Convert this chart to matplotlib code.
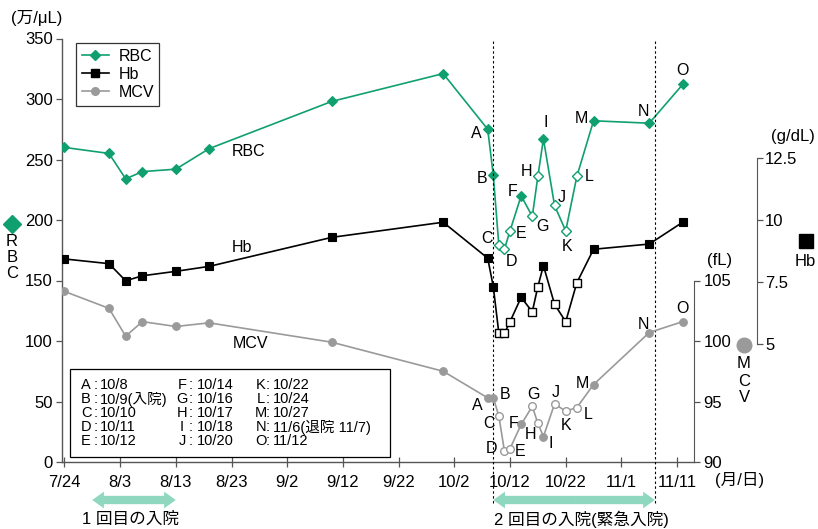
import matplotlib
matplotlib.use("Agg")
import matplotlib.pyplot as plt
import matplotlib.dates as mdates
from matplotlib.transforms import Affine2D, blended_transform_factory
from matplotlib.patches import FancyArrowPatch, Rectangle
from matplotlib.lines import Line2D
import datetime as dt

plt.rcParams['font.family'] = ['Liberation Sans', 'Noto Sans CJK JP']

# ---------------- data ----------------
dates = ['7/24', '8/1', '8/4', '8/7', '8/13', '8/19', '9/10', '9/30',
         '10/8', '10/9', '10/10', '10/11', '10/12', '10/14', '10/16', '10/17',
         '10/18', '10/20', '10/22', '10/24', '10/27', '11/6', '11/12']
rbc = [260, 255, 234, 240, 242, 259, 298, 321,
       275, 237, 179, 176, 191, 220, 203, 236, 267, 212, 191, 236, 282, 280, 312]
hb = [8.43, 8.24, 7.55, 7.75, 7.93, 8.13, 9.30, 9.91,
      8.46, 7.31, 5.43, 5.43, 5.90, 6.88, 6.30, 7.31, 8.16, 6.60, 5.90, 7.47, 8.82, 9.03, 9.91]
mcv = [104.1, 102.7, 100.4, 101.6, 101.2, 101.5, 99.9, 97.5,
       95.3, 95.3, 93.8, 90.9, 91.1, 93.1, 94.6, 93.2, 92.1, 94.8, 94.2, 94.5, 96.4, 100.7, 101.6]
filled = [True] * 8 + [True, True, False, False, False, True, False, False,
                       True, False, False, False, True, True, True]
point_letters = ['A', 'B', 'C', 'D', 'E', 'F', 'G', 'H', 'I', 'J', 'K', 'L', 'M', 'N', 'O']
letter_start = 8
xtick_labels = ['7/24', '8/3', '8/13', '8/23', '9/2', '9/12', '9/22', '10/2',
                '10/12', '10/22', '11/1', '11/11']
legend_labels = ['RBC', 'Hb', 'MCV']
key_col1 = [('A', '10/8'), ('B', '10/9(入院)'), ('C', '10/10'), ('D', '10/11'), ('E', '10/12')]
key_col2 = [('F', '10/14'), ('G', '10/16'), ('H', '10/17'), ('I', '10/18'), ('J', '10/20')]
key_col3 = [('K', '10/22'), ('L', '10/24'), ('M', '10/27'), ('N', '11/6(退院 11/7)'), ('O', '11/12')]
stay1 = ('7/29', '8/13')
stay2 = ('10/9', '11/7')
admit_lines = ['10/9', '11/7']

# label offsets in pixels (dx, dy) for point letters
rbc_off = [(-11, -4), (-11, -3), (-12, 7), (7, -12), (11, -3), (-9, 4), (10, -10),
           (-11, 5), (2, 16), (7, 8), (1, -16), (12, 0), (-12, 2), (-6, 12), (0, 14)]
mcv_off = [(-10, -8), (12, 3), (-10, -7), (-13, 3), (10, -3), (-8, 1), (1, 12),
           (-7, -11), (7, -7), (1, 11), (0, -14), (11, -7), (-11, 1), (-6, 8), (0, 13)]


def d(s):
    m, dd = s.split('/')
    return dt.datetime(2000, int(m), int(dd))


x = [d(s) for s in dates]

GREEN = '#10a070'
GREY = '#9a9a9a'
TEAL = '#8fd8bf'
W, H = 818, 529

fig = plt.figure(figsize=(W / 100, H / 100), dpi=100)
T = Affine2D().scale(1 / W, -1 / H).translate(0, 1) + fig.transFigure

L, R, B, TOP = 62.3, 694.0, 462.0, 38.5
ax = fig.add_axes([L / W, 1 - B / H, (R - L) / W, (B - TOP) / H])
start = d('7/24')
px_per_day = 5.57
ax.set_xlim(start + dt.timedelta(days=(L - 64.4) / px_per_day),
            start + dt.timedelta(days=(R - 64.4) / px_per_day))
ax.set_ylim(0, 350)

ax_hb = ax.twinx()
ax_hb.set_ylim((468 - B) / 24.8, (468 - TOP) / 24.8)
ax_mcv = ax.twinx()
ax_mcv.set_ylim(90, 90 + (B - TOP) / 12.1)

for a in (ax, ax_hb, ax_mcv):
    for s in ('top', 'right', 'left', 'bottom'):
        a.spines[s].set_visible(False)
    a.patch.set_visible(False)

spcol = '#555555'
ax.spines['left'].set_visible(True)
ax.spines['bottom'].set_visible(True)
ax.spines['left'].set_color(spcol)
ax.spines['bottom'].set_color(spcol)
ax.spines['left'].set_linewidth(1.0)
ax.spines['bottom'].set_linewidth(1.0)
ax.set_yticks(range(0, 351, 50))
ax.tick_params(axis='y', direction='out', length=4, width=0.9, pad=3, labelsize=12, color=spcol)
ax.set_xticks([d(s) for s in xtick_labels])
ax.set_xticklabels(xtick_labels)
ax.tick_params(axis='x', direction='inout', length=7, width=0.9, pad=6, labelsize=12, color=spcol)

ax_mcv.spines['right'].set_visible(True)
ax_mcv.spines['right'].set_position(('axes', 1.0))
ax_mcv.spines['right'].set_bounds(90, 105)
ax_mcv.spines['right'].set_color(spcol)
ax_mcv.set_yticks([90, 95, 100, 105])
ax_mcv.tick_params(axis='y', direction='out', length=4, width=0.9, pad=3, labelsize=12, color=spcol)

ax_hb.spines['right'].set_visible(True)
ax_hb.spines['right'].set_position(('axes', (757.3 - L) / (R - L)))
ax_hb.spines['right'].set_bounds(5, 12.5)
ax_hb.spines['right'].set_color(spcol)
ax_hb.set_yticks([5, 7.5, 10, 12.5])
ax_hb.set_yticklabels(['5', '7.5', '10', '12.5'])
ax_hb.tick_params(axis='y', direction='out', length=4, width=0.9, pad=1.5, labelsize=12, color=spcol)


def series(a, y, color, marker, ms, z):
    a.plot(x, y, color=color, lw=1.2, zorder=z)
    xf = [xi for xi, f in zip(x, filled) if f]
    yf = [yi for yi, f in zip(y, filled) if f]
    xo = [xi for xi, f in zip(x, filled) if not f]
    yo = [yi for yi, f in zip(y, filled) if not f]
    a.plot(xf, yf, ls='none', marker=marker, ms=ms, mfc=color, mec=color, mew=0.8, zorder=z + 1)
    a.plot(xo, yo, ls='none', marker=marker, ms=ms, mfc='white', mec=color, mew=1.0, zorder=z + 1)


series(ax, rbc, GREEN, 'D', 5.0, 3)
series(ax_hb, hb, 'black', 's', 5.5, 3)
series(ax_mcv, mcv, GREY, 'o', 5.5, 3)

for i, let in enumerate(point_letters):
    k = letter_start + i
    ax.annotate(let, (x[k], rbc[k]), xytext=rbc_off[i], textcoords='offset pixels',
                ha='center', va='center', fontsize=11.5, zorder=6)
    ax_mcv.annotate(let, (x[k], mcv[k]), xytext=mcv_off[i], textcoords='offset pixels',
                    ha='center', va='center', fontsize=11.5, zorder=6)

# dashed admission/discharge lines
for s in admit_lines:
    ax_mcv.axvline(d(s), ymin=-(503 - B) / (B - TOP), ymax=1, clip_on=False,
                   color='black', lw=0.8, ls=(0, (2.2, 2.2)), zorder=1)

# hospital stay arrows
bl = blended_transform_factory(ax.transData, T)
for s0, s1 in (stay1, stay2):
    x0 = mdates.date2num(d(s0))
    x1 = mdates.date2num(d(s1))
    xm = (x0 + x1) / 2
    for xe in (x0, x1):
        arr = FancyArrowPatch((xm, 500), (xe, 500), transform=bl,
                              arrowstyle='simple,head_length=0.7,head_width=1.0,tail_width=0.5',
                              mutation_scale=12, color=TEAL, lw=0, shrinkA=0, shrinkB=0,
                              clip_on=False)
        fig.add_artist(arr)

fig.text(131, 519, '1 回目の入院', transform=T, ha='center', va='center', fontsize=12)
fig.text(581, 519, '2 回目の入院(緊急入院)', transform=T, ha='center', va='center', fontsize=12)

# unit labels
fig.text(37, 18, '(万/μL)', transform=T, ha='center', va='center', fontsize=12)
fig.text(740, 480, '(月/日)', transform=T, ha='center', va='center', fontsize=12)
fig.text(720, 260, '(fL)', transform=T, ha='center', va='center', fontsize=12)
fig.text(793, 137, '(g/dL)', transform=T, ha='center', va='center', fontsize=12)

# series name labels near lines
fig.text(249, 151, 'RBC', transform=T, ha='center', va='center', fontsize=11.5)
fig.text(242, 248, 'Hb', transform=T, ha='center', va='center', fontsize=11.5)
fig.text(251, 343, 'MCV', transform=T, ha='center', va='center', fontsize=11.5)

# axis key symbols
fig.add_artist(Line2D([11.7], [224], transform=T, marker='D', ms=9, color=GREEN, ls='none'))
for ch, yy in zip('RBC', (242, 258, 274)):
    fig.text(11.7, yy, ch, transform=T, ha='center', va='center', fontsize=12)
fig.add_artist(Line2D([805.7], [241], transform=T, marker='s', ms=10, color='black', ls='none'))
fig.text(805.7, 261, 'Hb', transform=T, ha='center', va='center', fontsize=12)
fig.add_artist(Line2D([744], [345], transform=T, marker='o', ms=10.5, color=GREY, ls='none'))
for ch, yy in zip('MCV', (364, 381, 397)):
    fig.text(744, yy, ch, transform=T, ha='center', va='center', fontsize=12)

# legend
handles = [Line2D([], [], color=GREEN, marker='D', ms=5, lw=1.2),
           Line2D([], [], color='black', marker='s', ms=5.5, lw=1.2),
           Line2D([], [], color=GREY, marker='o', ms=5.5, lw=1.2)]
leg = ax_mcv.legend(handles, legend_labels, loc='upper left', bbox_to_anchor=(76 / W, 1 - 43 / H),
                    bbox_transform=fig.transFigure, frameon=True, fancybox=False, fontsize=11.5,
                    handlelength=1.7, borderpad=0.35, labelspacing=0.2, handletextpad=0.6,
                    borderaxespad=0)
leg.get_frame().set_edgecolor('black')
leg.get_frame().set_linewidth(0.9)

# date key box
fig.add_artist(Rectangle((70 / W, 1 - 457 / H), (390 - 70) / W, (457 - 369) / H,
                         transform=fig.transFigure, fill=True, fc='white', ec='black', lw=0.9, zorder=5))
cols = [(key_col1, 86, 96, 100), (key_col2, 182, 191, 197), (key_col3, 261, 268, 273)]
for entries, lx, cx, tx in cols:
    for j, (let, txt) in enumerate(entries):
        yy = 385 + 14 * j
        fig.text(lx, yy, let, transform=T, ha='center', va='center', fontsize=10.5, zorder=6)
        fig.text(cx, yy, ':', transform=T, ha='center', va='center', fontsize=10.5, zorder=6)
        fig.text(tx, yy, txt, transform=T, ha='left', va='center', fontsize=10.5, zorder=6)

fig.savefig('out.png', dpi=100)
